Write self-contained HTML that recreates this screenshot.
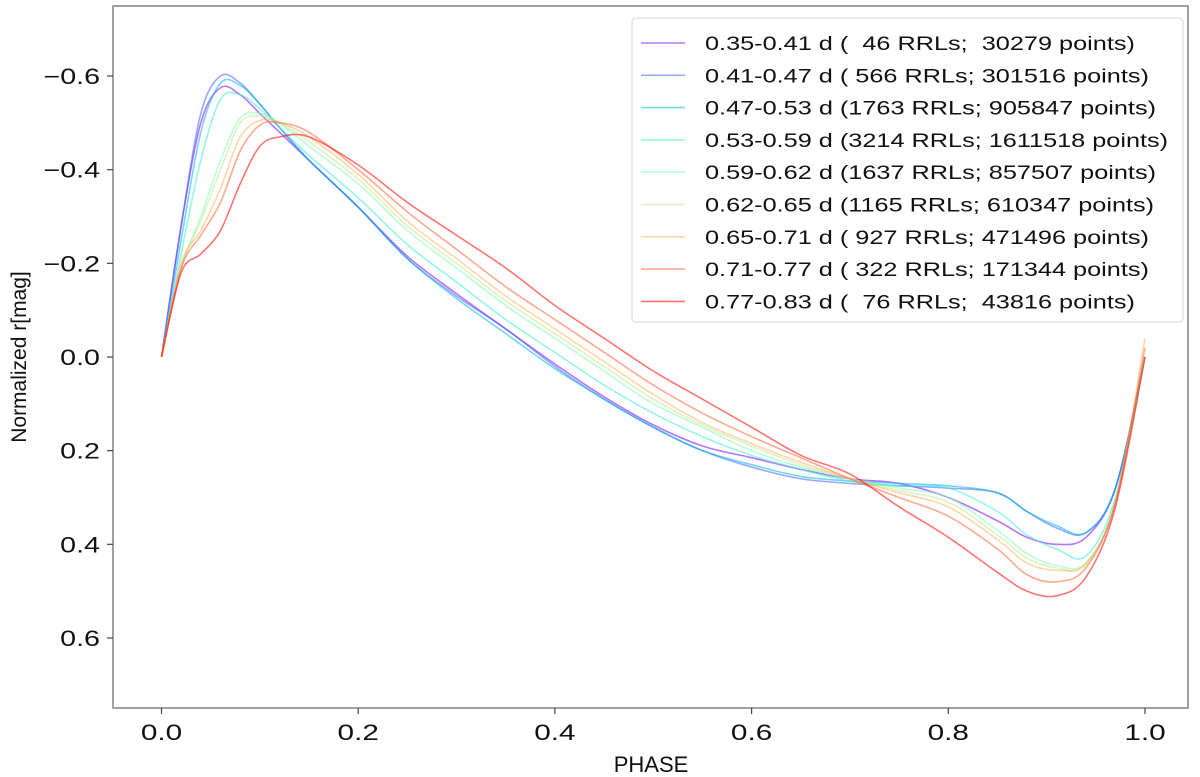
<!DOCTYPE html>
<html><head><meta charset="utf-8">
<style>
html,body{margin:0;padding:0;background:#fff;}
svg{display:block;font-family:"Liberation Sans","DejaVu Sans",sans-serif;}
</style></head>
<body>
<svg id="chart" width="1200" height="777" viewBox="0 0 1200 777" xmlns="http://www.w3.org/2000/svg">
  <rect x="0" y="0" width="1200" height="777" fill="#fff"/>
  <g id="curves"></g>
  <rect x="113" y="6" width="1075" height="702" fill="none" stroke="#888" stroke-width="1.6"/>
  <g id="xticks"></g>
  <g id="yticks"></g>
  <text id="xtitle" x="651" y="772" text-anchor="middle" font-size="22" fill="#111">PHASE</text>
  <text transform="translate(26,357) rotate(-90)" text-anchor="middle" font-size="21" fill="#111">Normalized r[mag]</text>
  <g id="legend">
    <rect x="632" y="18" width="551" height="304" rx="4" fill="#fff" fill-opacity="0.9" stroke="#ddd" stroke-width="1.2"/>
  </g>
</svg>
<script>
const phase = [0,0.02,0.04,0.06,0.08,0.10,0.12,0.15,0.20,0.25,0.30,0.35,0.40,0.45,0.50,0.55,0.60,0.65,0.70,0.75,0.80,0.85,0.88,0.91,0.94,0.97,1.0];
const s035 = [0,-0.28,-0.50,-0.575,-0.56,-0.52,-0.48,-0.42,-0.32,-0.215,-0.135,-0.06,0.015,0.085,0.145,0.19,0.215,0.24,0.26,0.27,0.30,0.35,0.385,0.40,0.385,0.28,0];
const s041 = [0,-0.28,-0.52,-0.60,-0.585,-0.54,-0.49,-0.42,-0.32,-0.21,-0.13,-0.06,0.02,0.09,0.15,0.20,0.235,0.26,0.27,0.275,0.28,0.29,0.33,0.365,0.375,0.28,0];
const s047 = [0,-0.25,-0.48,-0.585,-0.58,-0.54,-0.49,-0.42,-0.32,-0.21,-0.125,-0.05,0.025,0.09,0.15,0.20,0.23,0.255,0.265,0.27,0.275,0.29,0.33,0.36,0.375,0.28,0];
const s053 = [0,-0.22,-0.42,-0.55,-0.56,-0.53,-0.49,-0.43,-0.34,-0.24,-0.16,-0.08,-0.01,0.06,0.12,0.17,0.21,0.24,0.265,0.275,0.28,0.33,0.38,0.41,0.425,0.30,0];
const s059 = [0,-0.19,-0.30,-0.42,-0.51,-0.52,-0.50,-0.45,-0.37,-0.27,-0.19,-0.11,-0.04,0.03,0.10,0.15,0.20,0.235,0.26,0.28,0.30,0.37,0.42,0.445,0.44,0.31,0];
const s062 = [0,-0.19,-0.29,-0.40,-0.50,-0.515,-0.50,-0.46,-0.38,-0.28,-0.20,-0.12,-0.05,0.02,0.09,0.145,0.19,0.23,0.26,0.285,0.31,0.38,0.43,0.45,0.445,0.31,0];
const s065 = [0,-0.20,-0.27,-0.36,-0.47,-0.505,-0.50,-0.47,-0.39,-0.29,-0.21,-0.13,-0.06,0.01,0.08,0.14,0.185,0.225,0.26,0.29,0.32,0.39,0.44,0.455,0.44,0.31,-0.04];
const s071 = [0,-0.19,-0.26,-0.33,-0.44,-0.495,-0.50,-0.48,-0.40,-0.31,-0.23,-0.15,-0.08,-0.01,0.06,0.12,0.17,0.215,0.26,0.30,0.34,0.41,0.465,0.48,0.45,0.31,-0.02];
const s077 = [0,-0.18,-0.22,-0.27,-0.37,-0.45,-0.47,-0.47,-0.41,-0.33,-0.26,-0.19,-0.11,-0.04,0.03,0.09,0.15,0.21,0.25,0.32,0.385,0.46,0.50,0.51,0.47,0.32,0];
const seriesLabels = ["0.35-0.41 d (  46 RRLs;  30279 points)","0.41-0.47 d ( 566 RRLs; 301516 points)","0.47-0.53 d (1763 RRLs; 905847 points)","0.53-0.59 d (3214 RRLs; 1611518 points)","0.59-0.62 d (1637 RRLs; 857507 points)","0.62-0.65 d (1165 RRLs; 610347 points)","0.65-0.71 d ( 927 RRLs; 471496 points)","0.71-0.77 d ( 322 RRLs; 171344 points)","0.77-0.83 d (  76 RRLs;  43816 points)"];
const xTickValues = [0.0,0.2,0.4,0.6,0.8,1.0];
const xTickLabels = ["0.0","0.2","0.4","0.6","0.8","1.0"];
const yTickValues = [-0.6,-0.4,-0.2,0.0,0.2,0.4,0.6];
const yTickLabels = ["\u22120.6","\u22120.4","\u22120.2","0.0","0.2","0.4","0.6"];

const allSeries = [s035,s041,s047,s053,s059,s062,s065,s071,s077];
const colors = ["#8000ff","#4062fa","#00b4eb","#40ecd4","#80ffb4","#c0eb8e","#ffb462","#ff6232","#ff0000"];
const NS = "http://www.w3.org/2000/svg";
function xs(v){ return 161.5 + v*983.5; }
function ys(v){ return 357 + v*468.3; }
function mk(tag, attrs, parent){ const e=document.createElementNS(NS,tag); for(const k in attrs) e.setAttribute(k,attrs[k]); parent.appendChild(e); return e; }
function stretch(el, f){ const w = el.getComputedTextLength(); el.setAttribute("textLength", (w*f).toFixed(1)); el.setAttribute("lengthAdjust","spacingAndGlyphs"); }

function smoothPath(pts){
  let d = "M"+pts[0][0].toFixed(2)+","+pts[0][1].toFixed(2);
  for(let i=0;i<pts.length-1;i++){
    const p0=pts[Math.max(0,i-1)], p1=pts[i], p2=pts[i+1], p3=pts[Math.min(pts.length-1,i+2)];
    const c1x=p1[0]+(p2[0]-p0[0])/6, c1y=p1[1]+(p2[1]-p0[1])/6;
    const c2x=p2[0]-(p3[0]-p1[0])/6, c2y=p2[1]-(p3[1]-p1[1])/6;
    d += " C"+c1x.toFixed(2)+","+c1y.toFixed(2)+" "+c2x.toFixed(2)+","+c2y.toFixed(2)+" "+p2[0].toFixed(2)+","+p2[1].toFixed(2);
  }
  return d;
}

const gc = document.getElementById("curves");
allSeries.forEach((s,i)=>{
  const pts = phase.map((p,j)=>[xs(p), ys(s[j])]);
  const path = mk("path",{d:smoothPath(pts),fill:"none",stroke:colors[i],"stroke-width":"1.6","stroke-opacity":"0.55"},gc);
  
  
});

const gx = document.getElementById("xticks");
xTickValues.forEach((v,i)=>{
  const t = mk("line",{x1:xs(v),x2:xs(v),y1:708,y2:714,stroke:"#444","stroke-width":"1.2"},gx);
  
  
  const l = mk("text",{x:xs(v),y:740,"text-anchor":"middle","font-size":"22",fill:"#111"},gx);
  l.textContent = xTickLabels[i];
  
  
  stretch(l, 1.35);
});
const gy = document.getElementById("yticks");
yTickValues.forEach((v,i)=>{
  const t = mk("line",{x1:107,x2:113,y1:ys(v),y2:ys(v),stroke:"#444","stroke-width":"1.2"},gy);
  
  
  const l = mk("text",{x:100,y:ys(v)+8,"text-anchor":"end","font-size":"22",fill:"#111"},gy);
  l.textContent = yTickLabels[i];
  
  
  stretch(l, 1.3);
});

const gl = document.getElementById("legend");
seriesLabels.forEach((lab,i)=>{
  const y = 43 + i*32.3;
  const ln = mk("line",{x1:641,x2:685,y1:y,y2:y,stroke:colors[i],"stroke-width":"1.6","stroke-opacity":"0.55"},gl);
  
  
  const tx = mk("text",{x:705,y:y+7,"font-size":"19",fill:"#111","xml:space":"preserve"},gl);
  tx.setAttribute("style","white-space:pre");
  tx.textContent = lab;
  
  
  stretch(tx, 1.33);
});
</script>
</body></html>
